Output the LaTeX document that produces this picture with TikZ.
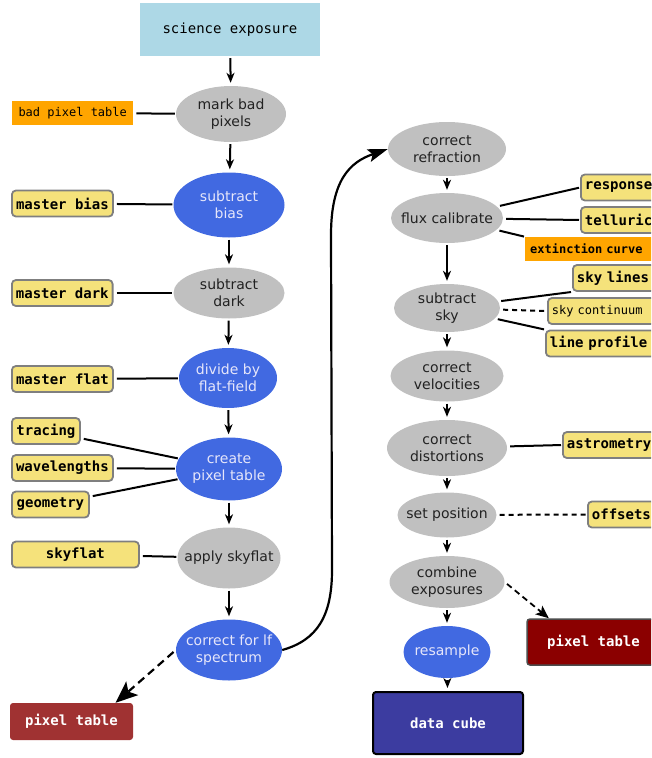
\documentclass[tikz,border=0pt]{standalone}
\usepackage{fontspec}
\setmainfont{DejaVu Sans}
\setmonofont{DejaVu Sans Mono}
\usetikzlibrary{shapes.geometric,arrows.meta}

\definecolor{sciblue}{HTML}{ADD8E6}
\definecolor{procgray}{HTML}{C0C0C0}
\definecolor{procblue}{HTML}{4169E1}
\definecolor{lavtext}{HTML}{E6E6FA}
\definecolor{darktext}{HTML}{222222}
\definecolor{calyellow}{HTML}{F5E27B}
\definecolor{caledge}{HTML}{7F7F7F}
\definecolor{tblorange}{HTML}{FFA500}
\definecolor{pixbrown}{HTML}{A03232}
\definecolor{pixdark}{HTML}{8B0000}
\definecolor{cubeblue}{HTML}{3C3CA0}

\tikzset{
	proc/.style={ellipse, fill=procgray, text=darktext, inner xsep=-9pt, inner ysep=0pt, align=center,
		font=\fontsize{14}{17}\selectfont},
	blueproc/.style={proc, fill=procblue, text=lavtext},
	calib/.style={draw=caledge, fill=calyellow, rounded corners=4pt, line width=1.8pt,
		minimum height=26pt, inner xsep=4pt, anchor=west,
		font=\fontsize{14}{17}\ttfamily\bfseries},
	cutoff/.style={text width=120pt, align=left},
	table/.style={fill=tblorange, minimum height=24pt, inner xsep=5pt, anchor=west,
		font=\fontsize{12}{14}\ttfamily},
	product/.style={rounded corners=3pt, text=white, font=\fontsize{14}{17}\ttfamily\bfseries},
	flow/.style={-{Stealth[length=10pt,width=8pt,inset=3pt]}, line width=2pt,
		shorten <=2pt, shorten >=3pt},
	link/.style={line width=2pt, shorten <=3pt, shorten >=1pt},
	dashlink/.style={link, dash pattern=on 5pt off 4pt},
	dasharrow/.style={line width=2.2pt, dash pattern=on 8pt off 5pt, shorten <=3pt}
}

\begin{document}
\begin{tikzpicture}[x=1pt,y=-1pt]
	\useasboundingbox (0,0) rectangle (651,758);
	\clip (0,0) rectangle (651,758);

	\node[fill=sciblue, minimum width=180pt, minimum height=53pt,
		font=\fontsize{14}{17}\ttfamily] (sci) at (230,29.5) {science exposure};

	\node[proc, minimum width=110pt, minimum height=56pt] (mark) at (231,114) {mark bad\\pixels};
	\node[blueproc, minimum width=111pt, minimum height=65pt] (bias) at (229,205) {subtract\\bias};
	\node[proc, minimum width=111pt, minimum height=51pt] (dark) at (229,293) {subtract\\dark};
	\node[blueproc, minimum width=98pt, minimum height=60pt] (flat) at (228,378) {divide by\\flat-field};
	\node[blueproc, minimum width=106pt, minimum height=63pt] (pixtab) at (229,469) {create\\pixel table};
	\node[proc, minimum width=103pt, minimum height=61pt] (apply) at (229,558) {apply skyflat};
	\node[blueproc, minimum width=106pt, minimum height=61pt] (lfspec) at (229,650) {correct for lf\\spectrum};

	\node[table, minimum width=121pt] (badpix) at (12,113) {bad pixel table};
	\node[calib, minimum width=101pt] (mbias) at (11,203.5) {master bias};
	\node[calib, minimum width=100pt] (mdark) at (11,293) {master dark};
	\node[calib, minimum width=101pt] (mflat) at (11,379) {master flat};
	\node[calib, minimum width=68pt] (tracing) at (11,431) {tracing};
	\node[calib, minimum width=101pt] (wavel) at (11,468) {wavelengths};
	\node[calib, minimum width=77pt] (geom) at (11,504.5) {geometry};
	\node[calib, minimum width=127pt] (skyflat) at (11,554.5) {skyflat};
	\node[product, fill=pixbrown, minimum width=123pt, minimum height=37pt] (pixleft) at (71.5,721.5) {pixel table};

	\node[proc, minimum width=118pt, minimum height=54pt] (refr) at (447,149) {correct\\refraction};
	\node[proc, minimum width=112pt, minimum height=50pt] (flux) at (447,218) {flux calibrate};
	\node[proc, minimum width=106pt, minimum height=48pt] (sky) at (447,308) {subtract\\sky};
	\node[proc, minimum width=113pt, minimum height=51pt] (velo) at (447,376) {correct\\velocities};
	\node[proc, minimum width=120pt, minimum height=56pt] (dist) at (447,448) {correct\\distortions};
	\node[proc, minimum width=99pt, minimum height=45pt] (setpos) at (447,515) {set position};
	\node[proc, minimum width=115pt, minimum height=52pt] (comb) at (447,582) {combine\\exposures};
	\node[blueproc, minimum width=87pt, minimum height=52pt] (resamp) at (447,652) {resample};
	\node[product, draw=black, line width=2pt, fill=cubeblue, minimum width=150pt, minimum height=62pt] (cube) at (448,723) {data cube};

	\node[calib, cutoff] (response) at (580,187.5) {response};
	\node[calib, cutoff] (tellur) at (580,220) {telluric};
	\node[table, cutoff, font=\fontsize{12}{14}\ttfamily\bfseries] (extinc) at (525,249) {extinction curve};
	\node[calib, cutoff] (skylines) at (572,278) {sky lines};
	\node[calib, cutoff, font=\fontsize{12}{14}\ttfamily] (skycont) at (547,311) {sky continuum};
	\node[calib, cutoff] (lineprof) at (545,343.5) {line profile};
	\node[calib, cutoff] (astrom) at (562,445) {astrometry};
	\node[calib, cutoff] (offsets) at (587,514.5) {offsets};
	\node[product, draw=black!70, line width=1.5pt, fill=pixdark, minimum width=133pt, minimum height=46pt] (pixright) at (593.5,642) {pixel table};

	\draw[flow] (sci) -- (mark);
	\draw[flow] (mark) -- (bias);
	\draw[flow] (bias) -- (dark);
	\draw[flow] (dark) -- (flat);
	\draw[flow] (flat) -- (pixtab);
	\draw[flow] (pixtab) -- (apply);
	\draw[flow] (apply) -- (lfspec);
	\draw[flow] (refr) -- (flux);
	\draw[flow] (flux) -- (sky);
	\draw[flow] (sky) -- (velo);
	\draw[flow] (velo) -- (dist);
	\draw[flow] (dist) -- (setpos);
	\draw[flow] (setpos) -- (comb);
	\draw[flow] (comb) -- (resamp);
	\draw[flow] (resamp) -- (cube);

	\draw[link] (badpix) -- (mark);
	\draw[link] (mbias) -- (bias);
	\draw[link] (mdark) -- (dark);
	\draw[link] (mflat) -- (flat);
	\draw[link] (tracing) -- (pixtab);
	\draw[link] (wavel) -- (pixtab);
	\draw[link] (geom) -- (pixtab);
	\draw[link] (skyflat) -- (apply);
	\draw[link] (flux) -- (response.west);
	\draw[link] (flux) -- (tellur.west);
	\draw[link] (flux) -- (extinc.north west);
	\draw[link] (sky) -- (skylines.south west);
	\draw[dashlink] (sky) -- (skycont.west);
	\draw[link] (sky) -- (lineprof.north west);
	\draw[link] (dist) -- (astrom.west);
	\draw[dashlink] (setpos) -- (offsets.west);

	\draw[dasharrow, -{Stealth[length=22pt,width=18pt,inset=5pt]}] (lfspec.west) -- (pixleft.23);
	\draw[dasharrow, line width=1.8pt, dash pattern=on 6pt off 4pt, -{Stealth[length=13pt,width=11pt,inset=3pt]}] (comb.east) -- (pixright.152);
	\draw[-{Stealth[length=20pt,width=13pt,inset=4pt]}, line width=2.2pt]
		(lfspec.east) .. controls (318,640) and (332,615) .. (332,570)
		-- (331,235) .. controls (331,180) and (350,162) .. (refr.west);
\end{tikzpicture}
\end{document}
